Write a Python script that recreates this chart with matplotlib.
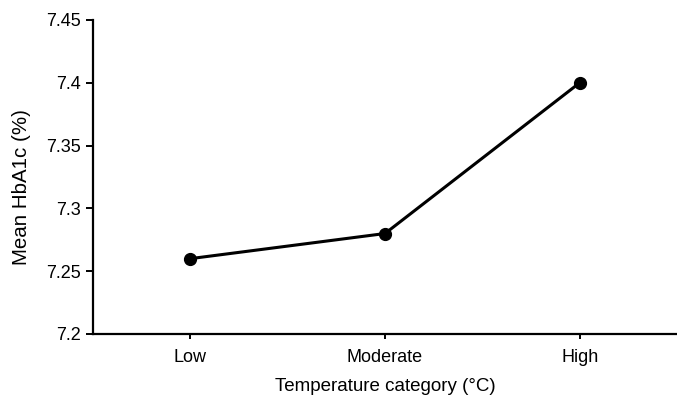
import matplotlib.pyplot as plt

plt.rcParams['font.family'] = ['Liberation Sans', 'DejaVu Sans']

# --- Data ---
categories = ['Low', 'Moderate', 'High']
mean_hba1c = [7.26, 7.28, 7.40]
y_ticks = [7.2, 7.25, 7.3, 7.35, 7.4, 7.45]
y_tick_labels = ['7.2', '7.25', '7.3', '7.35', '7.4', '7.45']

fig = plt.figure(figsize=(6.77, 4.04), dpi=100)
ax = fig.add_axes([93 / 677, 1 - 334 / 404, (677 - 93) / 677, (334 - 20) / 404])

x = [i + 0.5 for i in range(len(categories))]
ax.plot(x, mean_hba1c, color='black', lw=2.2, marker='o', markersize=8.5, clip_on=False)

ax.set_xlim(0, len(categories))
ax.set_ylim(7.2, 7.45)
ax.set_xticks(x)
ax.set_xticklabels(categories)
ax.set_yticks(y_ticks)
ax.set_yticklabels(y_tick_labels)

for side in ['top', 'right']:
    ax.spines[side].set_visible(False)
for side in ['left', 'bottom']:
    ax.spines[side].set_linewidth(1.6)

ax.tick_params(axis='both', direction='out', width=1.4, labelsize=13, colors='black')
ax.tick_params(axis='y', length=5, pad=3.5)
ax.tick_params(axis='x', length=3.5, pad=7)

ax.set_xlabel('Temperature category (°C)', fontsize=13.5, labelpad=9)
ax.set_ylabel('Mean HbA1c (%)', fontsize=14.8)
# label sits a little below the axis middle in the original
ax.yaxis.set_label_coords(-0.107, 0.468)

fig.savefig('out.png', dpi=100)
